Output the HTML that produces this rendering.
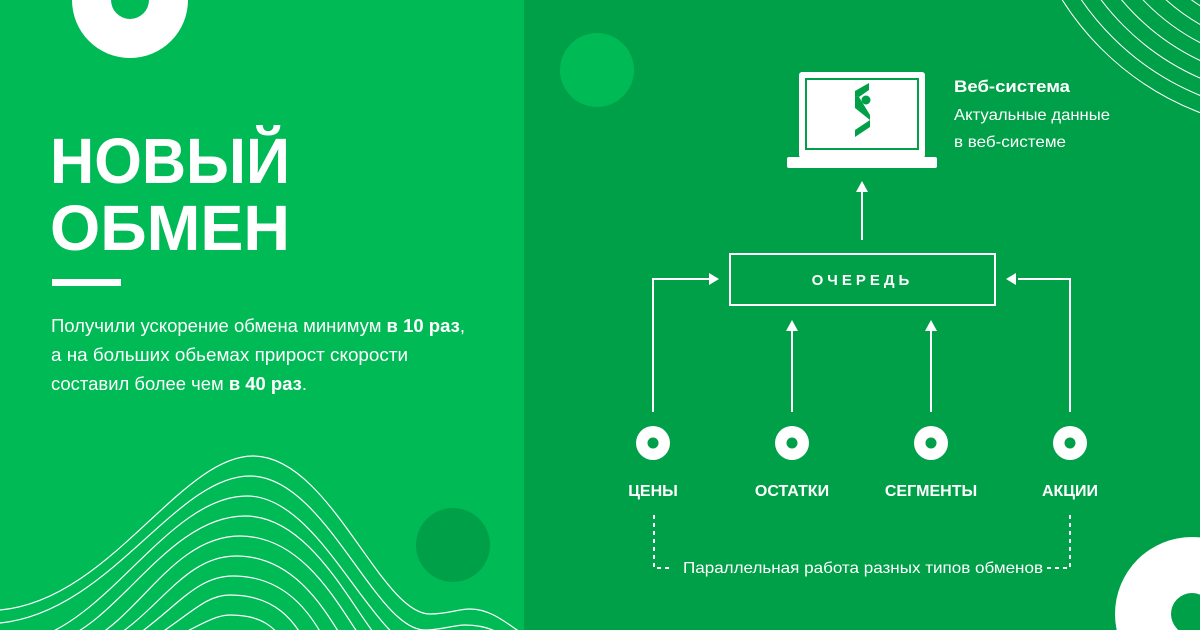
<!DOCTYPE html>
<html><head><meta charset="utf-8"><style>
html,body{margin:0;padding:0;width:1200px;height:630px;overflow:hidden}
body{position:relative;font-family:"Liberation Sans","DejaVu Sans",sans-serif;}
svg{display:block}
</style></head><body>
<svg width="1200" height="630" viewBox="0 0 1200 630" xmlns="http://www.w3.org/2000/svg" style="position:absolute;left:0;top:0">
<rect x="0" y="0" width="524" height="630" fill="#00BA55"/>
<rect x="524" y="0" width="676" height="630" fill="#00A048"/>
<circle cx="130" cy="0" r="58" fill="#fff"/>
<circle cx="130" cy="0" r="19" fill="#00BA55"/>
<circle cx="453" cy="545" r="37" fill="#00A048"/>
<circle cx="597" cy="70" r="37" fill="#00BA55"/>
<g fill="none" stroke="#fff" stroke-width="1.2">
<path d="M0 610 C110 600 180 456 253 456 C330 456 380 614 430 614 C448 614 458 609 470 609 C490 609 505 622 520 632"/>
<path d="M0 623 C110 612 175 476 250 476 C325 476 375 630 425 630 C440 630 455 625 465 625 C485 625 500 632 510 640"/>
<path d="M30 640 C110 620 170 496 247 496 C320 496 370 640 420 650"/>
<path d="M60 640 C120 620 170 516 245 516 C318 516 360 630 390 650"/>
<path d="M90 640 C140 615 175 536 240 536 C310 536 345 620 370 650"/>
<path d="M110 640 C160 610 185 556 236 556 C300 556 330 620 350 650"/>
<path d="M130 640 C175 610 195 576 233 576 C290 576 315 620 330 650"/>
<path d="M150 640 C190 615 205 595 230 595 C275 595 295 620 310 650"/>
<path d="M170 640 C200 625 215 615 230 615 C260 615 275 625 290 650"/>
</g>
<g fill="none" stroke="#fff" stroke-width="1">
<circle cx="1300" cy="-150" r="281"/>
<circle cx="1300" cy="-150" r="265"/>
<circle cx="1300" cy="-150" r="249"/>
<circle cx="1300" cy="-150" r="233"/>
<circle cx="1300" cy="-150" r="217"/>
<circle cx="1300" cy="-150" r="201"/>
<circle cx="1300" cy="-150" r="185"/>
<circle cx="1300" cy="-150" r="169"/>
</g>
<circle cx="1192" cy="614" r="77" fill="#fff"/>
<circle cx="1192" cy="614" r="21" fill="#00A048"/>
<text x="50" y="183" font-size="64" font-weight="bold" fill="#fff" textLength="240" lengthAdjust="spacingAndGlyphs">НОВЫЙ</text>
<text x="50" y="250" font-size="64" font-weight="bold" fill="#fff" textLength="240" lengthAdjust="spacingAndGlyphs">ОБМЕН</text>
<rect x="52" y="279" width="69" height="7" fill="#fff"/>
<g font-size="18" fill="#fff">
<text x="51" y="332" textLength="414" lengthAdjust="spacingAndGlyphs">Получили ускорение обмена минимум <tspan font-weight="bold">в 10 раз</tspan>,</text>
<text x="51" y="361" textLength="357" lengthAdjust="spacingAndGlyphs">а на больших обьемах прирост скорости</text>
<text x="51" y="390" textLength="256" lengthAdjust="spacingAndGlyphs">составил более чем <tspan font-weight="bold">в 40 раз</tspan>.</text>
</g>
<rect x="799" y="72" width="126" height="86" rx="3" fill="#fff"/>
<rect x="806" y="79" width="112" height="70" fill="#fff" stroke="#00A048" stroke-width="2"/>
<rect x="787" y="157" width="150" height="11" rx="2" fill="#fff"/>
<polygon points="869,83 869,90 859,97 855,96 855,91" fill="#00A048"/>
<polygon points="855,96 859,97 870,115 870,120 855,108" fill="#00A048"/>
<polygon points="870,120 870,127 855,137 855,130" fill="#00A048"/>
<circle cx="866" cy="100" r="4.5" fill="#00A048"/>
<text x="954" y="92" font-size="17" font-weight="bold" fill="#fff" textLength="116" lengthAdjust="spacingAndGlyphs">Веб-система</text>
<text x="954" y="120" font-size="16" fill="#fff" textLength="156" lengthAdjust="spacingAndGlyphs">Актуальные данные</text>
<text x="954" y="147" font-size="16" fill="#fff" textLength="112" lengthAdjust="spacingAndGlyphs">в веб-системе</text>
<rect x="730" y="254" width="265" height="51" fill="none" stroke="#fff" stroke-width="2"/>
<text x="862.5" y="285" font-size="15" font-weight="bold" fill="#fff" text-anchor="middle" letter-spacing="4">ОЧЕРЕДЬ</text>
<g stroke="#fff" stroke-width="2" fill="none">
<line x1="862" y1="240" x2="862" y2="192"/>
<polyline points="653,412 653,279 712,279"/>
<polyline points="1070,412 1070,279 1018,279"/>
<line x1="792" y1="412" x2="792" y2="330"/>
<line x1="931" y1="412" x2="931" y2="330"/>
</g>
<g fill="#fff">
<polygon points="862,181 856,192 868,192"/>
<polygon points="719,279 709,273 709,285"/>
<polygon points="1006,279 1016,273 1016,285"/>
<polygon points="792,320 786,331 798,331"/>
<polygon points="931,320 925,331 937,331"/>
</g>
<g fill="#fff">
<circle cx="653" cy="443" r="17"/><circle cx="792" cy="443" r="17"/><circle cx="931" cy="443" r="17"/><circle cx="1070" cy="443" r="17"/>
</g>
<g fill="#00A048">
<circle cx="653" cy="443" r="5.5"/><circle cx="792" cy="443" r="5.5"/><circle cx="931" cy="443" r="5.5"/><circle cx="1070" cy="443" r="5.5"/>
</g>
<g font-size="16" font-weight="bold" fill="#fff" text-anchor="middle">
<text x="653" y="496">ЦЕНЫ</text>
<text x="792" y="496">ОСТАТКИ</text>
<text x="931" y="496">СЕГМЕНТЫ</text>
<text x="1070" y="496">АКЦИИ</text>
</g>
<g stroke="#fff" stroke-width="2" fill="none" stroke-dasharray="4 4">
<polyline points="654,515 654,568 672,568"/>
<polyline points="1070,515 1070,568 1046,568"/>
</g>
<text x="683" y="573" font-size="16" fill="#fff" textLength="360" lengthAdjust="spacingAndGlyphs">Параллельная работа разных типов обменов</text>
</svg>
</body></html>
